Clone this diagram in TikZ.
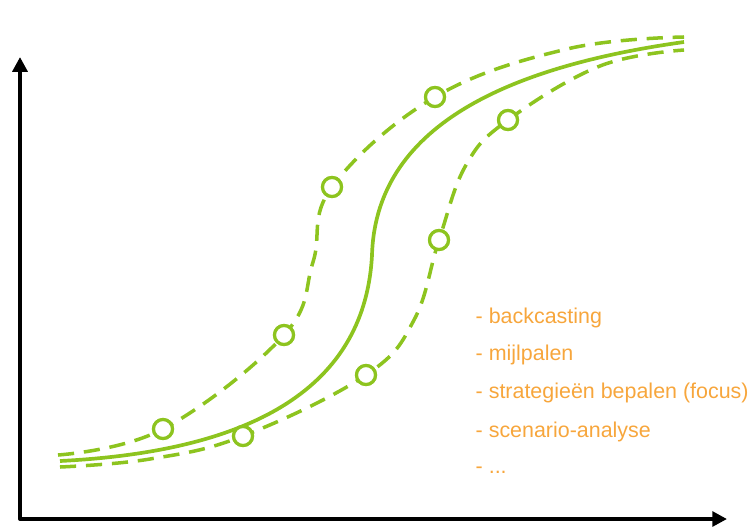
\documentclass[tikz,border=0pt]{standalone}
\usepackage{fontspec}
\setmainfont{Liberation Sans}
\usetikzlibrary{arrows.meta}
\definecolor{groen}{RGB}{141,196,31}
\definecolor{oranje}{RGB}{247,166,60}
\begin{document}
\begin{tikzpicture}[x=0.1mm,y=-0.1mm,
    as/.style={line width=1.1pt,line join=round,{Triangle[length=4.2pt,width=4.2pt]}-{Triangle[length=4.2pt,width=4.2pt]}},
    pad/.style={groen,line width=1pt,dash pattern=on 4.6pt off 2.8pt},
    mijl/.style={circle,draw=groen,fill=white,line width=0.9pt,minimum size=1.9mm,inner sep=0pt},
    lijst/.style={anchor=west,text=oranje,font=\fontsize{6.1}{7}\selectfont,inner sep=0pt}]
  \useasboundingbox (0,0) rectangle (751,528);
  % assen
  \coordinate (top) at (20,57);
  \coordinate (o) at (20,519);
  \coordinate (rechts) at (727,519);
  \draw[as] (top) -- (o) -- (rechts);
  % middelste curve
  \draw[groen,line width=1.05pt] (60,461) .. controls (280,450) and (366,370) .. (372,255)
    .. controls (376,120) and (520,65) .. (684,42);
  % bovenste pad
  \node[mijl] (b1) at (163,429) {};
  \node[mijl] (b2) at (284,335) {};
  \node[mijl] (b3) at (332,187) {};
  \node[mijl] (b4) at (435,97) {};
  % onderste pad
  \node[mijl] (o1) at (243,436) {};
  \node[mijl] (o2) at (366,375) {};
  \node[mijl] (o3) at (439,240) {};
  \node[mijl] (o4) at (508,120) {};
  \draw[pad] plot[smooth,tension=0.65] coordinates {(58,455) (b1.center) (b2.center)
    (313,262) (b3.center) (b4.center) (567,49) (684,37)};
  \draw[pad] plot[smooth,tension=0.65] coordinates {(60,467) (150,459) (o1.center) (o2.center)
    (414,320) (o3.center) (466,165) (o4.center) (600,66) (684,50)};
  \foreach \n in {b1,b2,b3,b4,o1,o2,o3,o4}
    \node[mijl] at (\n) {};
  % lijst
  \node[lijst] (t1) at (475,318) {- backcasting};
  \node[lijst] (t2) at (475,355) {- mijlpalen};
  \node[lijst] (t3) at (475,393) {- strategieën bepalen (focus)};
  \node[lijst] (t4) at (475,432) {- scenario-analyse};
  \node[lijst] (t5) at (475,470) {- ...};
\end{tikzpicture}
\end{document}
